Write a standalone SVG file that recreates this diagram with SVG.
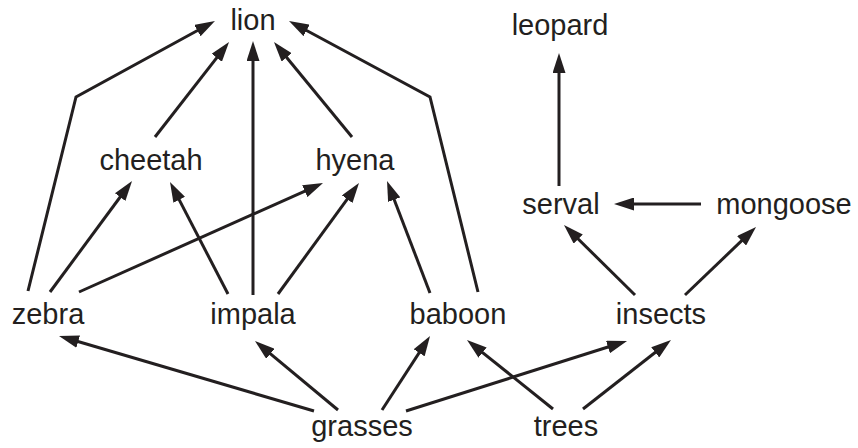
<svg xmlns="http://www.w3.org/2000/svg" width="858" height="448" viewBox="0 0 858 448">
<style>
.lbl{font-family:"Liberation Sans",Arial,Helvetica,sans-serif;font-size:29px;fill:#231f20;text-anchor:middle}
.e{fill:none;stroke:#231f20;stroke-width:3;marker-end:url(#ah)}
</style>
<defs>
<marker id="ah" markerUnits="userSpaceOnUse" markerWidth="20" markerHeight="13" refX="10" refY="6.5" orient="auto" viewBox="0 0 20 13">
<path d="M0,0 L20,6.5 L0,13 z" fill="#231f20"/>
</marker>
</defs>
<rect width="858" height="448" fill="#ffffff"/>
<g id="connectors">
<polyline class="e" points="28,291 76,97 206.2,25.8"/>
<line class="e" x1="155" y1="137" x2="222.9" y2="49.9"/>
<line class="e" x1="253" y1="295" x2="253" y2="51"/>
<line class="e" x1="352" y1="137" x2="280.3" y2="49.7"/>
<polyline class="e" points="478,292 430,97 297.8,25.7"/>
<line class="e" x1="50" y1="292" x2="126.1" y2="189"/>
<line class="e" x1="228" y1="294" x2="174.6" y2="190.9"/>
<line class="e" x1="79" y1="292" x2="313.9" y2="187.1"/>
<line class="e" x1="278" y1="294" x2="353.1" y2="191.1"/>
<line class="e" x1="430" y1="293" x2="390.6" y2="190.3"/>
<line class="e" x1="314" y1="411" x2="68.6" y2="338.8"/>
<line class="e" x1="338" y1="410" x2="262.7" y2="347.4"/>
<line class="e" x1="382" y1="410" x2="424.6" y2="344.4"/>
<line class="e" x1="406" y1="411" x2="617.5" y2="344"/>
<line class="e" x1="553" y1="409" x2="474.8" y2="346.3"/>
<line class="e" x1="583" y1="409" x2="663.1" y2="346.2"/>
<line class="e" x1="635" y1="295" x2="571.1" y2="232"/>
<line class="e" x1="685" y1="295" x2="748.8" y2="233.9"/>
<line class="e" x1="701" y1="204" x2="624" y2="204"/>
<line class="e" x1="559" y1="186" x2="559" y2="63"/>
</g>
<g id="lion"><text class="lbl" x="253" y="30">lion</text></g>
<g id="leopard"><text class="lbl" x="560" y="35">leopard</text></g>
<g id="cheetah"><text class="lbl" x="151" y="170">cheetah</text></g>
<g id="hyena"><text class="lbl" x="355" y="170">hyena</text></g>
<g id="serval"><text class="lbl" x="561" y="214">serval</text></g>
<g id="mongoose"><text class="lbl" x="784" y="214">mongoose</text></g>
<g id="zebra"><text class="lbl" x="48" y="324">zebra</text></g>
<g id="impala"><text class="lbl" x="253" y="324">impala</text></g>
<g id="baboon"><text class="lbl" x="458" y="324">baboon</text></g>
<g id="insects"><text class="lbl" x="661" y="324">insects</text></g>
<g id="grasses"><text class="lbl" x="362" y="436">grasses</text></g>
<g id="trees"><text class="lbl" x="566" y="436">trees</text></g>
</svg>
